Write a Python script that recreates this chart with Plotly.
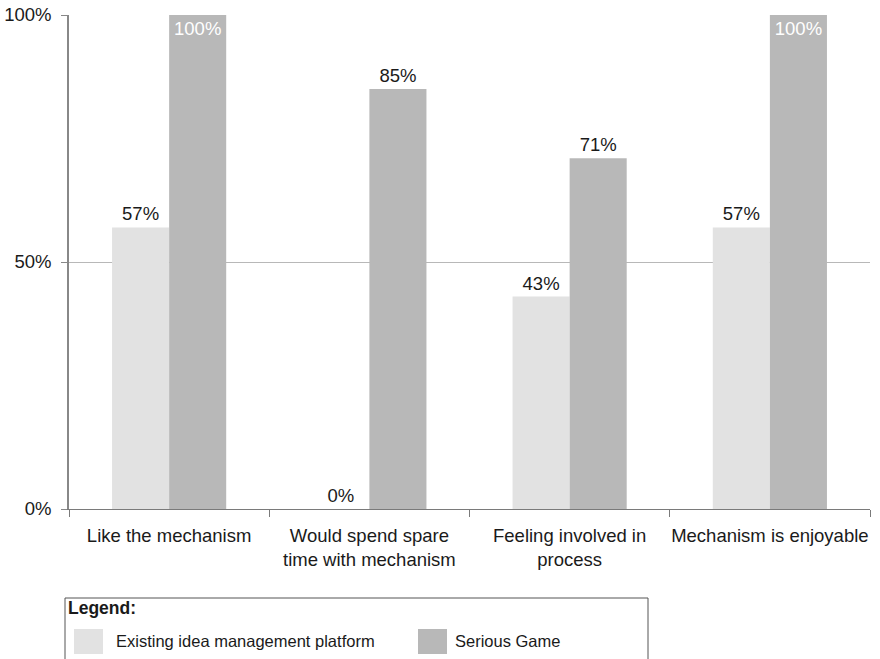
import plotly.graph_objects as go

# Survey results: share of respondents agreeing with each statement
categories = [
    "Like the mechanism",
    "Would spend spare<br>time with mechanism",
    "Feeling involved in<br>process",
    "Mechanism is enjoyable",
]
existing_platform = [57, 0, 43, 57]
serious_game = [100, 85, 71, 100]
series_names = ["Existing idea management platform", "Serious Game"]
y_ticks = [0, 50, 100]

LIGHT = "#e2e2e2"
DARK = "#b8b8b8"
TEXT = "#1a1a1a"
FONT = "Liberation Sans, Arial, sans-serif"
FS = 18.5


def bar_text_style(values):
    pos = ["inside" if v >= 100 else "outside" for v in values]
    col = ["white" if v >= 100 else TEXT for v in values]
    return pos, col


fig = go.Figure()
for name, vals, color in [
    (series_names[0], existing_platform, LIGHT),
    (series_names[1], serious_game, DARK),
]:
    pos, col = bar_text_style(vals)
    fig.add_trace(
        go.Bar(
            x=categories,
            y=vals,
            name=name,
            marker=dict(color=color, line=dict(width=0)),
            text=[f"{v}%" for v in vals],
            textposition=pos,
            insidetextanchor="end",
            textfont=dict(family=FONT, size=FS, color=col),
            cliponaxis=False,
            showlegend=False,
        )
    )

fig.update_layout(
    width=880,
    height=659,
    margin=dict(l=69, r=10, t=15, b=150, autoexpand=False),
    paper_bgcolor="white",
    plot_bgcolor="white",
    barmode="group",
    bargap=0.43,
    bargroupgap=0,
    font=dict(family=FONT, size=FS, color=TEXT),
    uniformtext=dict(minsize=FS, mode="show"),
    xaxis=dict(
        automargin=False,
        tickangle=0,
        showline=True,
        linecolor="#7a7a7a",
        linewidth=1,
        ticks="outside",
        tickson="boundaries",
        ticklen=7,
        tickcolor="#7a7a7a",
        showgrid=False,
        ticklabelstandoff=10,
        tickfont=dict(family=FONT, size=FS, color=TEXT),
    ),
    yaxis=dict(
        automargin=False,
        range=[0, 100],
        tickvals=y_ticks,
        ticktext=[f"{v}%" for v in y_ticks],
        showline=True,
        linecolor="#888",
        linewidth=1.5,
        ticks="outside",
        ticklen=6,
        tickcolor="#888",
        showgrid=True,
        gridcolor="#b8b8b8",
        gridwidth=1,
        zeroline=False,
        ticklabelstandoff=6,
        tickfont=dict(family=FONT, size=FS, color=TEXT),
    ),
)

# Legend panel drawn below the plot area (paper coordinates)
plot_w, plot_h = 801.0, 494.0


def px_x(px):
    return (px - 69) / plot_w


def px_y(py):
    return (509 - py) / plot_h


fig.add_shape(
    type="rect", xref="paper", yref="paper",
    x0=px_x(65), x1=px_x(648), y0=px_y(680), y1=px_y(598),
    line=dict(color="#555", width=1), fillcolor="rgba(0,0,0,0)",
)
fig.add_annotation(
    xref="paper", yref="paper", x=px_x(66), y=px_y(608),
    text="<b>Legend:</b>", showarrow=False, xanchor="left", yanchor="middle",
    font=dict(family=FONT, size=17.5, color=TEXT),
)
for (sx, tx, color, label) in [
    (74, 114, LIGHT, series_names[0]),
    (418, 453, DARK, series_names[1]),
]:
    fig.add_shape(
        type="rect", xref="paper", yref="paper",
        x0=px_x(sx), x1=px_x(sx + 29), y0=px_y(654), y1=px_y(629),
        line=dict(width=0), fillcolor=color,
    )
    fig.add_annotation(
        xref="paper", yref="paper", x=px_x(tx), y=px_y(641),
        text=label, showarrow=False, xanchor="left", yanchor="middle",
        font=dict(family=FONT, size=16.5, color=TEXT),
    )

fig.write_html("out.html")
